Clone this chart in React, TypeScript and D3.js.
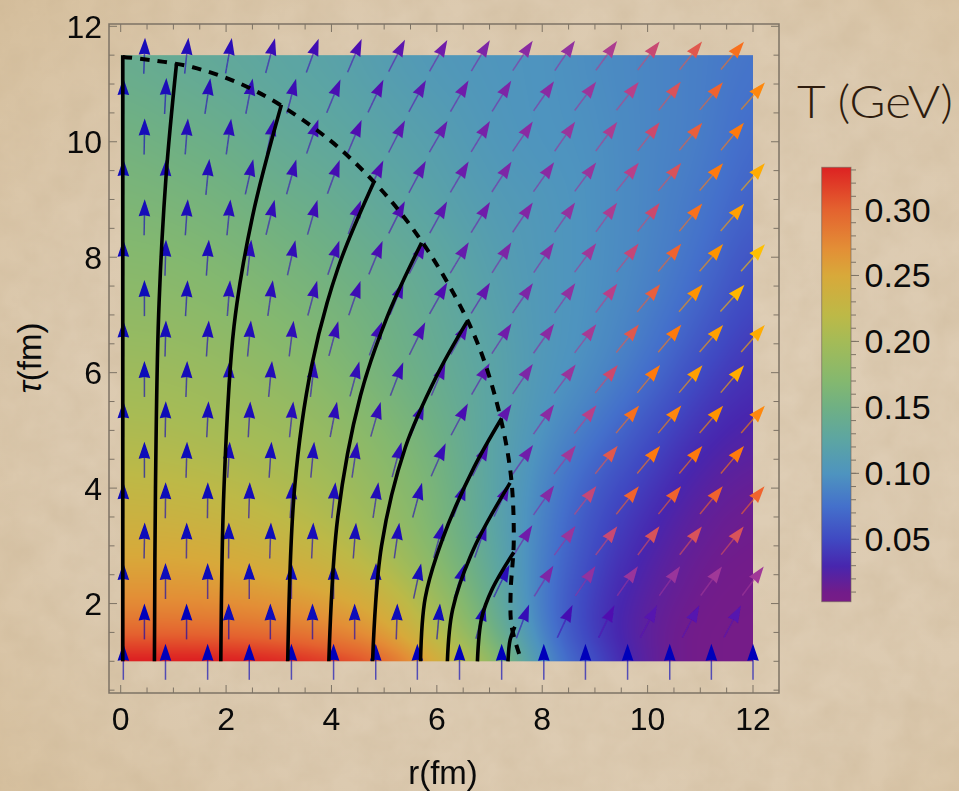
import React from 'react';
import * as d3 from 'd3';

// temperature, rows = tauGrid, columns = rGrid
const rGrid = [0, 1, 2, 3, 4, 5, 6, 7, 8, 9, 10, 11, 12];
const tauGrid = [1, 1.5, 2, 3, 4, 5, 6, 7, 8, 9, 10, 11.5];
const tempGrid = [
  [0.335, 0.335, 0.335, 0.33, 0.318, 0.298, 0.245, 0.19, 0.095, 0.05, 0.018, 0.008, 0.006],
  [0.297, 0.297, 0.295, 0.29, 0.28, 0.262, 0.215, 0.16, 0.085, 0.04, 0.018, 0.008, 0.006],
  [0.272, 0.272, 0.27, 0.265, 0.257, 0.24, 0.195, 0.145, 0.08, 0.04, 0.02, 0.01, 0.007],
  [0.245, 0.245, 0.24, 0.232, 0.22, 0.198, 0.165, 0.13, 0.085, 0.05, 0.028, 0.014, 0.01],
  [0.225, 0.222, 0.218, 0.21, 0.2, 0.182, 0.16, 0.125, 0.09, 0.06, 0.04, 0.022, 0.014],
  [0.207, 0.205, 0.2, 0.195, 0.185, 0.17, 0.15, 0.125, 0.10, 0.08, 0.055, 0.035, 0.025],
  [0.195, 0.193, 0.188, 0.18, 0.17, 0.155, 0.14, 0.125, 0.105, 0.095, 0.075, 0.05, 0.035],
  [0.182, 0.18, 0.175, 0.168, 0.16, 0.15, 0.135, 0.12, 0.105, 0.098, 0.085, 0.065, 0.045],
  [0.172, 0.17, 0.165, 0.158, 0.15, 0.14, 0.13, 0.115, 0.105, 0.098, 0.09, 0.075, 0.055],
  [0.163, 0.16, 0.155, 0.147, 0.14, 0.13, 0.12, 0.11, 0.105, 0.098, 0.09, 0.08, 0.065],
  [0.155, 0.15, 0.145, 0.135, 0.13, 0.122, 0.115, 0.105, 0.10, 0.098, 0.09, 0.085, 0.07],
  [0.14, 0.135, 0.13, 0.125, 0.12, 0.112, 0.105, 0.102, 0.10, 0.095, 0.09, 0.085, 0.078],
];

const tempStops = [0.003, 0.01, 0.03, 0.05, 0.075, 0.1, 0.125, 0.15, 0.17, 0.2, 0.22, 0.25, 0.27, 0.3, 0.332];
const tempColors = ['#781c86', '#721c8a', '#4826ae', '#4049c2', '#4470cb', '#4e94bf', '#5ca5a3', '#6fb084', '#84b86f', '#a4bb57', '#bdb947', '#d8a93a', '#e38f36', '#e4622f', '#dd2222'];

// arrows: odd rows sit half a step to the right
const arrowTaus = [1, 1.7, 2.4, 3.1, 3.8, 4.5, 5.2, 5.9, 6.6, 7.3, 8, 8.7, 9.4, 10.1, 10.8, 11.5];
const evenRs = [0.05, 0.85, 1.65, 2.44, 3.24, 4.04, 4.84, 5.63, 6.43, 7.23, 8.03, 8.82, 9.62, 10.42, 11.21, 12];
const oddRs = [0.45, 1.25, 2.05, 2.84, 3.64, 4.44, 5.24, 6.03, 6.83, 7.63, 8.43, 9.22, 10.02, 10.82, 11.61];

// tilt from vertical in degrees
const arrowAngles = [
  [0, 0, 0, 0, 0, 0, 0, 0, 0, 0, 0, 0, 0, 0, 0, 0],
  [0, 0, 0, 0, 0, 0, 1.7, 5, 15, 20.7, 25, 26, 27, 28, 28],
  [0, 0, 0, 0, 0, 0, 1, 12, 17, 26, 32, 34, 35, 35.3, 36.2, 36.6],
  [1, 0.5, 0.5, 2, 2.7, 4.4, 8, 15, 19, 32, 36, 37, 37, 38, 38.8],
  [0, 0.5, 0.6, 1.7, 4, 6, 8.5, 15, 20, 25, 35, 37.6, 38.9, 39, 39.3, 39.8],
  [0, 1.6, 3.3, 3.8, 5.4, 8.4, 15, 23.8, 26.6, 35, 37.4, 38.6, 39.7, 40, 40],
  [0, 1, 2.8, 3.3, 6, 11, 16, 22, 27.8, 33, 35, 38, 40, 40, 40.8, 41],
  [0, 2, 3.2, 5.4, 6.6, 15, 21, 23, 30, 34, 36.8, 39, 39.3, 40.5, 40.5],
  [0, 1.5, 3.8, 5.4, 7, 15, 20.6, 26, 29, 33, 35, 37, 39, 40, 41, 41],
  [0, 3.3, 4.4, 8, 15, 19, 22, 29.5, 31.4, 34.3, 35, 36.9, 39.7, 41, 42],
  [0, 1.6, 4, 6.5, 12.7, 18.6, 22.4, 27, 31, 32.3, 34, 36.8, 38, 39.7, 40.8, 41.6],
  [1, 4, 5.6, 13.8, 16, 20.7, 26.6, 28.7, 31.7, 34, 34.6, 36, 38, 39.7, 40.8],
  [0, 2.5, 5.6, 12.7, 15.6, 20, 25, 28, 30.5, 33, 35, 36.6, 38.6, 39.4, 40.5, 41.3],
  [1, 4.4, 7.8, 12, 19, 22.8, 27, 30, 31.4, 34, 34.7, 36.5, 37.7, 39.7, 39.7],
  [0, 2.8, 8.7, 11, 15, 22.4, 25.3, 28.3, 30, 32, 34.6, 36.7, 38.2, 37.8, 40, 41.2],
  [2, 6, 10, 15, 20, 23, 27, 29.5, 31, 33.7, 34, 36, 37.5, 38.7, 39.8],
];

// speed level 0..13, goes through speedColors
const arrowSpeeds = [
  [0, 0, 0, 0, 0, 0, 0, 0, 0, 0, 0, 0, 0, 0, 0, 0],
  [0, 0, 0.1, 0.1, 0.1, 0.2, 0.2, 0.2, 0.7, 1.3, 1.7, 2, 2.2, 2.2, 2.2],
  [0.1, 0.1, 0.2, 0.2, 0.3, 0.3, 0.4, 0.5, 0.8, 1, 3.5, 4.3, 4.7, 4.7, 5, 5],
  [0.1, 0.2, 0.2, 0.3, 0.4, 0.5, 0.6, 1, 1.4, 3, 4.7, 6.8, 7.6, 7.6, 7.6],
  [0.1, 0.2, 0.3, 0.4, 0.5, 0.6, 0.8, 0.9, 1.2, 2, 3.8, 6.6, 9, 9, 9, 9],
  [0.1, 0.3, 0.4, 0.5, 0.7, 0.9, 1.1, 1.4, 1.9, 3, 5, 8, 10, 10, 10],
  [0.1, 0.3, 0.5, 0.7, 0.9, 1, 1.2, 1.4, 1.8, 2.5, 4, 6, 9.5, 10.5, 11, 10.5],
  [0.2, 0.4, 0.6, 0.8, 1, 1.2, 1.4, 1.9, 2.4, 3.5, 4.7, 7, 10, 11.5, 12],
  [0.2, 0.4, 0.6, 0.8, 1.1, 1.3, 1.5, 1.8, 2, 3, 4, 5.3, 8, 10, 11.5, 12],
  [0.3, 0.5, 0.8, 1, 1.3, 1.5, 1.6, 2, 2.6, 3.5, 4.3, 6, 8.5, 11, 12.5],
  [0.2, 0.5, 0.7, 1, 1.2, 1.5, 1.8, 2, 2.7, 3.5, 4, 5, 6.6, 9, 11, 13],
  [0.4, 0.7, 0.9, 1.2, 1.5, 1.8, 2, 2.4, 3, 3.7, 4.4, 5.5, 7, 9.6, 11.5],
  [0.3, 0.6, 0.8, 1.1, 1.4, 1.7, 2, 2.4, 2.9, 3.5, 4, 4.7, 6, 7.6, 10, 12],
  [0.4, 0.8, 1, 1.3, 1.6, 2, 2.4, 2.7, 3.3, 4, 4.7, 5.5, 7, 8.6, 10],
  [0.3, 0.6, 0.9, 1.2, 1.5, 1.8, 2.1, 2.4, 3, 3.5, 4, 4.8, 6, 7.6, 9, 10.5],
  [0.5, 0.8, 1, 1.4, 1.6, 1.9, 2.4, 3, 3.5, 4, 4.3, 5.5, 6.8, 8, 9.5],
];
const speedColors = ['#0606ba', '#2a0cb8', '#5010b0', '#6f1eaa', '#8a2ca2', '#a03898', '#b84088', '#cc4a6c', '#e0584e', '#f0642e', '#ff7a10', '#ff9400', '#ffac00', '#ffc000'];

// flow lines, [r, tau]
const flowLines: number[][][] = [
  [[0.04, 1], [0.04, 11.5]],
  [[0.64, 1], [0.66, 4], [0.72, 7], [0.86, 9.39], [1.06, 11.36]],
  [[1.9, 1], [1.96, 4], [2.15, 6.8], [2.5, 8.7], [3.05, 10.64]],
  [[3.17, 1], [3.3, 4], [3.62, 6.1], [4.12, 7.8], [4.81, 9.31]],
  [[3.95, 1], [4.12, 3.5], [4.55, 5.6], [5.05, 6.95], [5.71, 8.25]],
  [[4.78, 1], [4.95, 3], [5.4, 4.7], [6, 5.95], [6.57, 6.88]],
  [[5.69, 1], [5.78, 2.1], [6.1, 3.1], [6.7, 4.35], [7.23, 5.21]],
  [[6.2, 1], [6.3, 1.9], [6.7, 2.95], [7.39, 4.09]],
  [[6.77, 1], [6.85, 1.75], [7.05, 2.25], [7.46, 2.89]],
  [[7.35, 1], [7.39, 1.37], [7.48, 1.6]],
];

const freezeOut = [
  [0.04, 11.47], [1.37, 11.29], [2.58, 10.87], [3.91, 10.07], [4.81, 9.3], [5.49, 8.56], [6.19, 7.58], [6.76, 6.54],
  [7.16, 5.4], [7.4, 4.26], [7.46, 3.1], [7.4, 2.18], [7.42, 1.6], [7.61, 1],
];

const xMajor = [0, 2, 4, 6, 8, 10, 12];
const yMajor = [2, 4, 6, 8, 10, 12];
const tMajor = [0.05, 0.1, 0.15, 0.2, 0.25, 0.3];

const x = d3.scaleLinear().domain([0, 12]).range([120.7, 753]);
const y = d3.scaleLinear().domain([1, 12]).range([661.3, 26.3]);
const tLegend = d3.scaleLinear().domain([0.0027, 0.332]).range([601.7, 167.3]);
const tempColor = d3.scaleLinear<string>().domain(tempStops).range(tempColors).interpolate(d3.interpolateRgb).clamp(true);
const speedColor = d3.scaleLinear<string>().domain(d3.range(speedColors.length)).range(speedColors).clamp(true);

const FRAME = { left: 109, right: 779, top: 24, bottom: 693 };
const INK = '#7d7365';

function tempAt(r: number, tau: number) {
  const i = Math.min(d3.bisectRight(rGrid, r) - 1, rGrid.length - 2);
  const k = Math.min(d3.bisectRight(tauGrid, tau) - 1, tauGrid.length - 2);
  const fr = (r - rGrid[i]) / (rGrid[i + 1] - rGrid[i]);
  const ft = (tau - tauGrid[k]) / (tauGrid[k + 1] - tauGrid[k]);
  const a = tempGrid[k][i] * (1 - fr) + tempGrid[k][i + 1] * fr;
  const b = tempGrid[k + 1][i] * (1 - fr) + tempGrid[k + 1][i + 1] * fr;
  return a * (1 - ft) + b * ft;
}

// grid creases are averaged out so the shading looks continuous
const kernel = [-1, -0.5, 0, 0.5, 1];
function softTemp(r: number, tau: number) {
  const spreadTau = Math.min(0.5, 0.08 + (tau - 1) * 0.22);
  let sum = 0;
  for (const a of kernel) {
    for (const b of kernel) {
      const rr = Math.max(0, Math.min(12, r + a * 0.45));
      const tt = Math.max(1, Math.min(11.5, tau + b * spreadTau));
      sum += tempAt(rr, tt);
    }
  }
  return sum / (kernel.length * kernel.length);
}

function heatImage(w: number, h: number) {
  const canvas = document.createElement('canvas');
  canvas.width = w;
  canvas.height = h;
  const ctx = canvas.getContext('2d')!;
  const img = ctx.createImageData(w, h);
  const rAt = d3.scaleLinear().domain([0, w]).range([0, 12]);
  const tauAt = d3.scaleLinear().domain([0, h]).range([11.5, 1]);
  const lut = d3.range(1024).map(i => d3.rgb(tempColor((i / 1023) * 0.34)));
  for (let py = 0; py < h; py++) {
    for (let px = 0; px < w; px++) {
      const c = lut[Math.min(1023, Math.round((softTemp(rAt(px + 0.5), tauAt(py + 0.5)) / 0.34) * 1023))];
      const o = (py * w + px) * 4;
      img.data[o] = c.r;
      img.data[o + 1] = c.g;
      img.data[o + 2] = c.b;
      img.data[o + 3] = 255;
    }
  }
  ctx.putImageData(img, 0, 0);
  return canvas.toDataURL();
}

const lineGen = d3.line<number[]>().x(d => x(d[0])).y(d => y(d[1])).curve(d3.curveCatmullRom.alpha(0.5));
const headGen = d3.line();

function Arrow({ r, tau, angle, speed }: { r: number; tau: number; angle: number; speed: number }) {
  const color = speedColor(speed);
  const half = 18;
  return (
    <g transform={`translate(${x(r)},${y(tau) + 0.5}) rotate(${angle})`}>
      <line x1={0} x2={0} y1={half} y2={-half + 10} stroke={color} strokeWidth={1.5} strokeOpacity={0.62} />
      <path d={headGen([[0, -half], [5.8, -half + 17], [0, -half + 16], [-5.8, -half + 17]])! + 'Z'} fill={color} />
    </g>
  );
}

export default function App() {
  const heat = React.useMemo(() => heatImage(Math.round(x(12) - x(0)), Math.round(y(1) - y(11.5))), []);
  const ticksX = d3.range(0, 12.01, 0.5);
  const ticksY = d3.range(0.5, 12.01, 0.5);
  const ticksT = d3.range(0.01, 0.331, 0.01);
  const sans = 'Liberation Sans, Arial, sans-serif';
  return (
    <svg width={959} height={791} style={{ position: 'absolute', left: 0, top: 0 }} fontFamily={sans}>
      <defs>
        <radialGradient id="vignette" cx="58%" cy="52%" r="80%">
          <stop offset="0%" stopColor="#e0d0b9" />
          <stop offset="65%" stopColor="#dccab0" />
          <stop offset="100%" stopColor="#d6bf9c" />
        </radialGradient>
        <filter id="paper" x="0" y="0" width="100%" height="100%">
          <feTurbulence type="fractalNoise" baseFrequency="0.03" numOctaves="4" seed="4" />
          <feColorMatrix values="0 0 0 0 0.55  0 0 0 0 0.42  0 0 0 0 0.26  0.3 0.3 0 0 -0.2" />
        </filter>
        <filter id="soft" x="-2%" y="-2%" width="104%" height="104%">
          <feGaussianBlur stdDeviation="0.45" />
        </filter>
        <linearGradient id="legendRamp" x1="0" x2="0" y1="1" y2="0">
          {tempStops.map(t => (
            <stop key={t} offset={(t - 0.003) / (0.332 - 0.003)} stopColor={tempColor(t)} />
          ))}
        </linearGradient>
      </defs>
      <rect width={959} height={791} fill="url(#vignette)" />
      <rect width={959} height={791} filter="url(#paper)" />

      <image href={heat} x={x(0)} y={y(11.5)} width={x(12) - x(0)} height={y(1) - y(11.5)} preserveAspectRatio="none" />

      {/* frame and ticks */}
      <rect x={FRAME.left} y={FRAME.top} width={FRAME.right - FRAME.left} height={FRAME.bottom - FRAME.top} fill="none" stroke={INK} strokeWidth={1.5} />
      <g stroke={INK} strokeWidth={1}>
        {ticksX.map(t => {
          const len = xMajor.includes(t) ? 8 : 5.5;
          return (
            <g key={t}>
              <line x1={x(t)} x2={x(t)} y1={FRAME.bottom} y2={FRAME.bottom - len} />
              <line x1={x(t)} x2={x(t)} y1={FRAME.top} y2={FRAME.top + len} />
            </g>
          );
        })}
        {ticksY.map(t => {
          const len = yMajor.includes(t) ? 8 : 5.5;
          return (
            <g key={t}>
              <line x1={FRAME.left} x2={FRAME.left + len} y1={y(t)} y2={y(t)} />
              <line x1={FRAME.right} x2={FRAME.right - len} y1={y(t)} y2={y(t)} />
            </g>
          );
        })}
      </g>

      <g filter="url(#soft)">
        {arrowTaus.map((tau, i) =>
          (i % 2 ? oddRs : evenRs).map((r, j) => (
            <Arrow key={`${i}-${j}`} r={r} tau={tau} angle={arrowAngles[i][j]} speed={arrowSpeeds[i][j]} />
          ))
        )}
        {flowLines.map((d, i) => (
          <path key={i} d={lineGen(d)!} fill="none" stroke="#000" strokeWidth={3.6} />
        ))}
        <path d={lineGen(freezeOut)!} fill="none" stroke="#000" strokeWidth={4} strokeDasharray="9.5 8" />
      </g>

      {/* axis numbers */}
      <g fontSize={32} fill="#0a0a0a">
        {xMajor.map(t => (
          <text key={t} x={x(t)} y={730} textAnchor="middle">{t}</text>
        ))}
        {yMajor.map(t => (
          <text key={t} x={102} y={y(t) + 11.5} textAnchor="end">{t}</text>
        ))}
      </g>
      <text x={443} y={784} fontSize={33} textAnchor="middle" fill="#0a0a0a">r(fm)</text>
      <text transform="translate(41,358) rotate(-90)" fontSize={33} textAnchor="middle" fill="#0a0a0a">
        <tspan fontStyle="italic">τ</tspan>(fm)
      </text>

      {/* colour legend */}
      <rect x={821.7} y={tLegend(0.332)} width={29.3} height={tLegend(0.0027) - tLegend(0.332)} fill="url(#legendRamp)" stroke="#6e6258" strokeOpacity={0.6} />
      <g stroke={INK} strokeWidth={1}>
        {ticksT.map(t => (
          <line key={t} x1={851} x2={856} y1={tLegend(t)} y2={tLegend(t)} />
        ))}
        {tMajor.map(t => (
          <line key={t} x1={851} x2={859} y1={tLegend(t)} y2={tLegend(t)} />
        ))}
      </g>
      <g fontSize={34} fill="#0a0a0a">
        {tMajor.map(t => (
          <text key={t} x={864.5} y={tLegend(t) + 12}>{d3.format('.2f')(t)}</text>
        ))}
      </g>
      <text x={797} y={118} fontFamily="Lato, sans-serif" fontWeight={300} fontSize={46} fill="#2e1c0e" textLength={156} lengthAdjust="spacingAndGlyphs">T (GeV)</text>
    </svg>
  );
}
